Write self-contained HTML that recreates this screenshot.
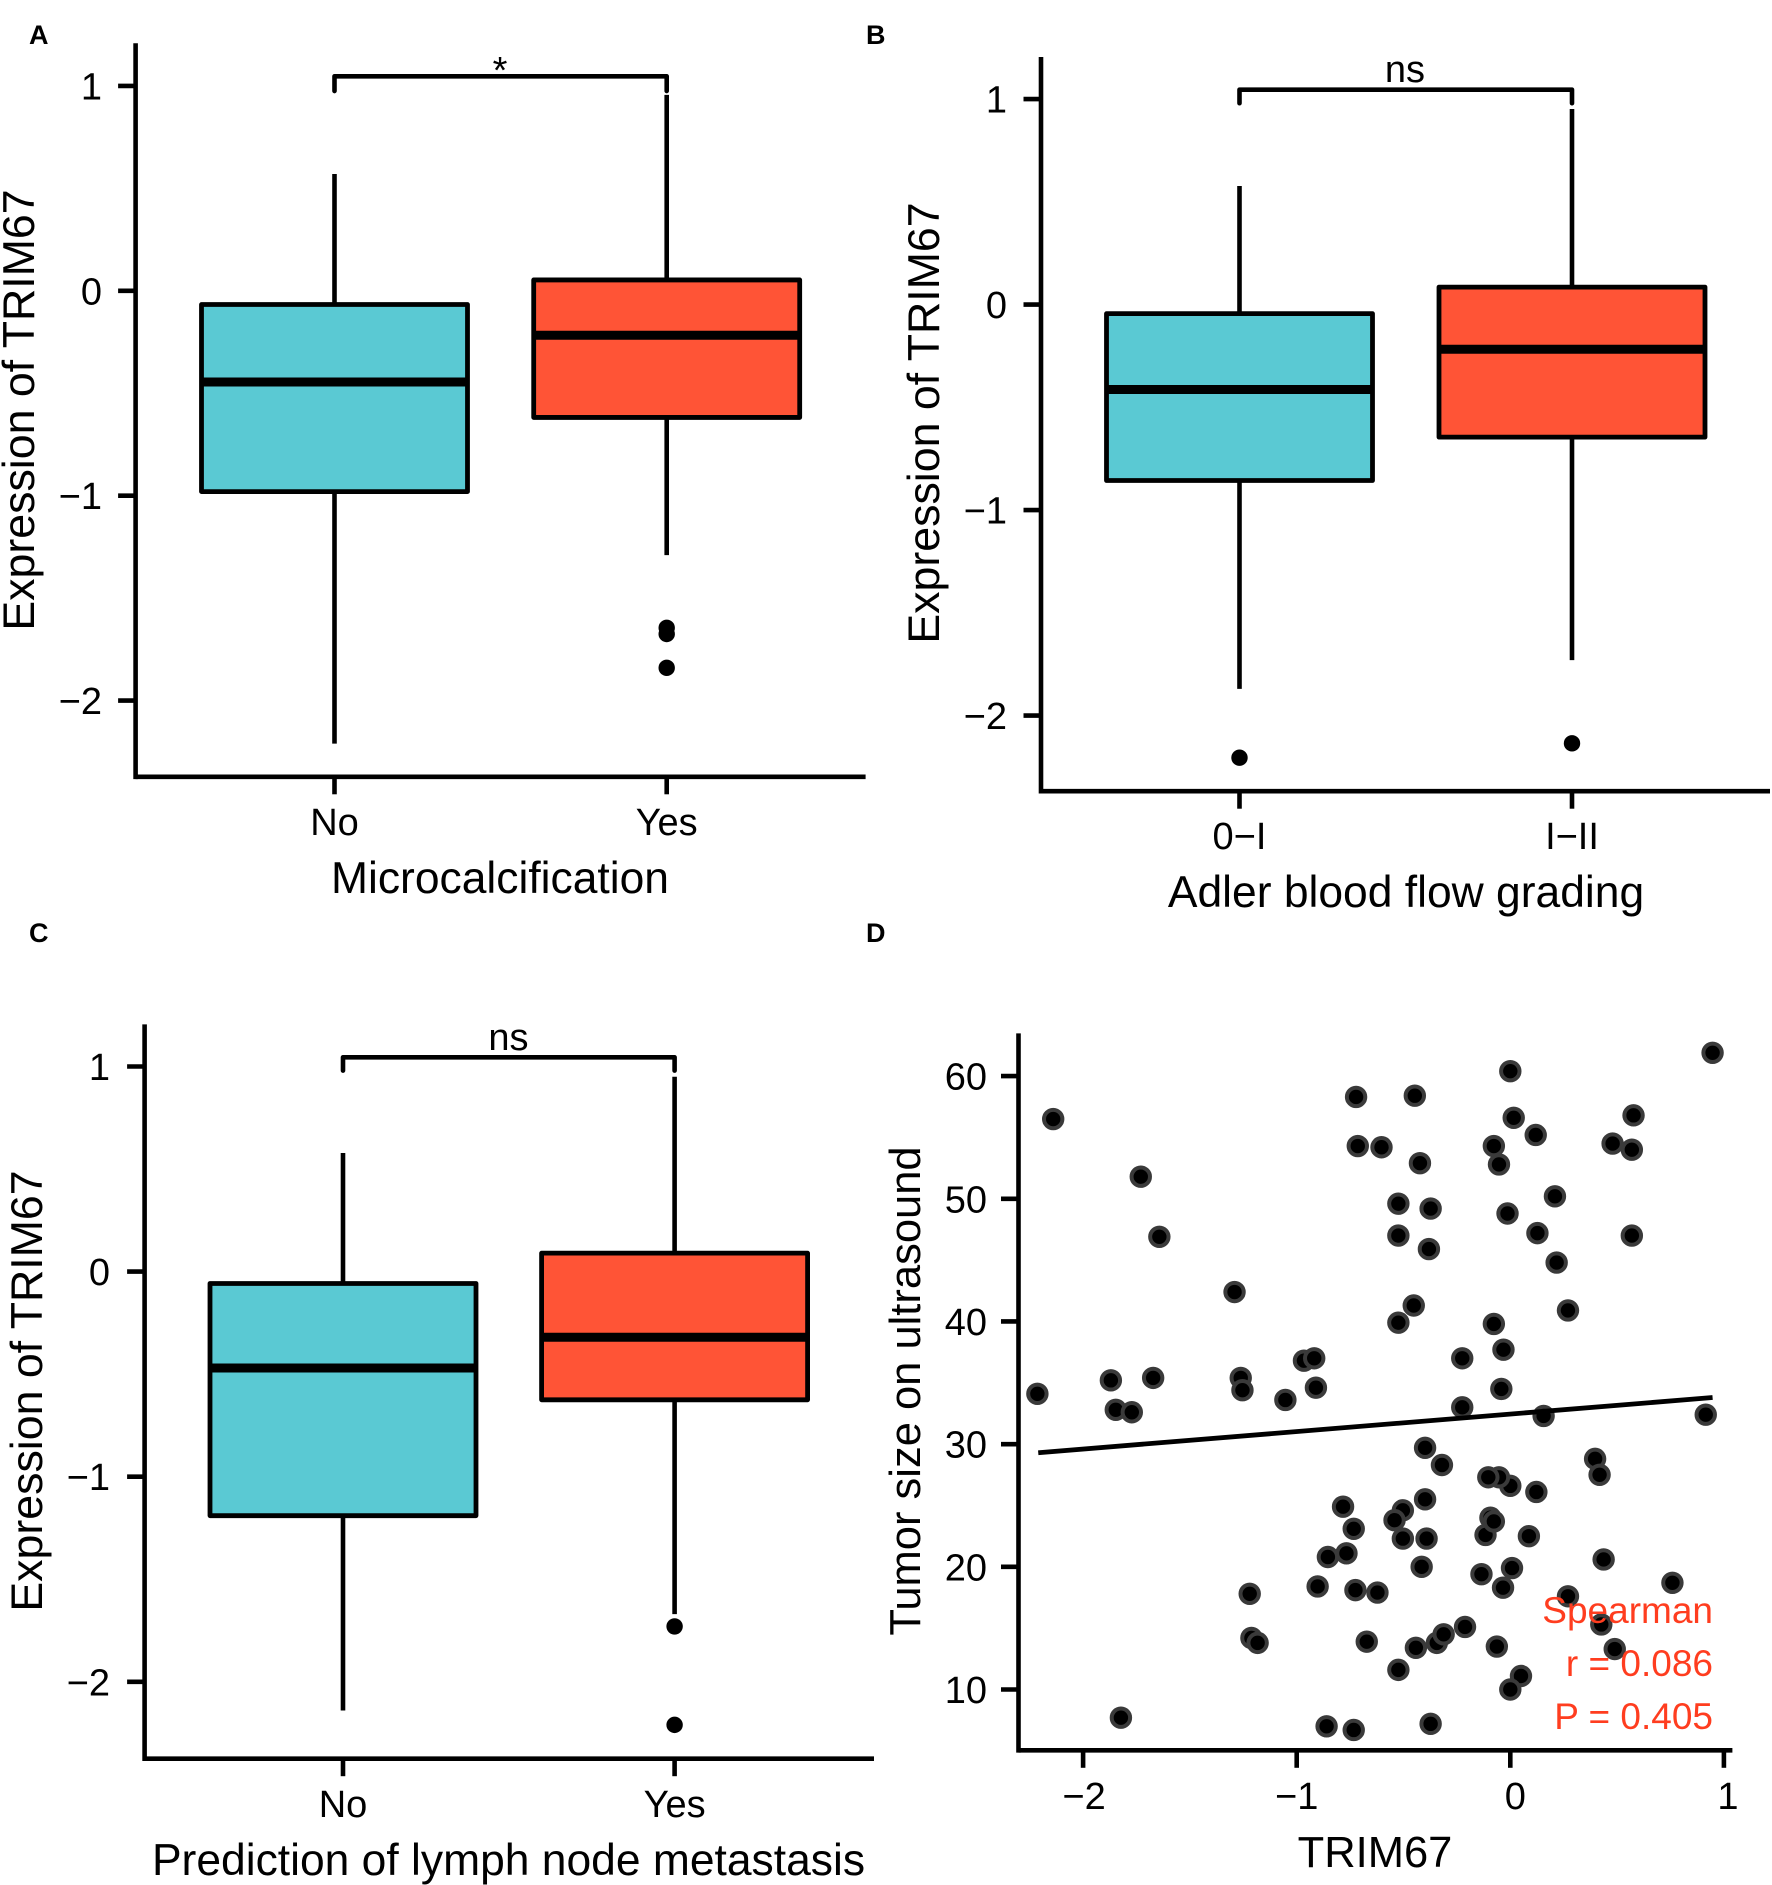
<!DOCTYPE html>
<html lang="en">
<head>
<meta charset="utf-8">
<title>TRIM67 expression panels</title>
<style>
html,body{margin:0;padding:0;background:#fff;}
svg{display:block;}
text{font-family:"Liberation Sans",Arial,sans-serif;fill:#000;}
.tick{font-size:38px;}
.title{font-size:44.4px;}
.ytitle{font-size:44.7px;}
.dtitle{font-size:43.5px;}
.sig{font-size:38px;}
.letter{font-size:27px;font-weight:bold;}
.stat{font-size:37px;fill:#ff3d1f;}
</style>
</head>
<body>
<svg id="figure" xmlns="http://www.w3.org/2000/svg" width="1772" height="1885" viewBox="0 0 1772 1885">
  <rect x="0" y="0" width="1772" height="1885" fill="#fff"/>
  <g id="panel-a"></g>
  <g id="panel-b"></g>
  <g id="panel-c"></g>
  <g id="panel-d"></g>

  <text class="letter" x="29" y="44">A</text>
  <text class="letter" x="866" y="44">B</text>
  <text class="letter" x="29" y="942">C</text>
  <text class="letter" x="866" y="942">D</text>

  <text class="ytitle" text-anchor="middle" transform="translate(34,410) rotate(-90)">Expression of TRIM67</text>
  <text class="title" text-anchor="middle" x="500" y="893">Microcalcification</text>
  <text class="sig" text-anchor="middle" x="500" y="83">*</text>

  <text class="ytitle" text-anchor="middle" transform="translate(939,423) rotate(-90)">Expression of TRIM67</text>
  <text class="title" text-anchor="middle" x="1406" y="907">Adler blood flow grading</text>
  <text class="sig" text-anchor="middle" x="1405" y="82">ns</text>

  <text class="ytitle" text-anchor="middle" transform="translate(42,1391) rotate(-90)">Expression of TRIM67</text>
  <text class="title" text-anchor="middle" x="508.5" y="1875">Prediction of lymph node metastasis</text>
  <text class="sig" text-anchor="middle" x="508.5" y="1050">ns</text>

  <text class="dtitle" text-anchor="middle" transform="translate(920,1391) rotate(-90)">Tumor size on ultrasound</text>
  <text class="dtitle" text-anchor="middle" x="1375" y="1867">TRIM67</text>
  <text class="stat" id="stat-1" text-anchor="end" x="1713" y="1623">Spearman</text>
  <text class="stat" id="stat-2" text-anchor="end" x="1713" y="1676">r = 0.086</text>
  <text class="stat" id="stat-3" text-anchor="end" x="1713" y="1729">P = 0.405</text>
</svg>

<script>
// ---------- Box plot data (panel A: Microcalcification) ----------
const categoriesA = ['No', 'Yes'];
const whiskerHighA = [0.57, 0.956];
const q3A = [-0.067, 0.053];
const medianA = [-0.445, -0.217];
const q1A = [-0.98, -0.618];
const whiskerLowA = [-2.21, -1.29];
const outliersA = [[], [-1.645, -1.675, -1.84]];
const bracketA = [1.047, 0.975];

// ---------- Panel B: Adler blood flow grading ----------
const categoriesB = ['0\u2212I', 'I\u2212II'];
const whiskerHighB = [0.577, 0.952];
const q3B = [-0.044, 0.085];
const medianB = [-0.413, -0.217];
const q1B = [-0.856, -0.645];
const whiskerLowB = [-1.87, -1.73];
const outliersB = [[-2.205], [-2.135]];
const bracketB = [1.046, 0.98];

// ---------- Panel C: Prediction of lymph node metastasis ----------
const categoriesC = ['No', 'Yes'];
const whiskerHighC = [0.578, 0.95];
const q3C = [-0.058, 0.09];
const medianC = [-0.47, -0.32];
const q1C = [-1.19, -0.625];
const whiskerLowC = [-2.14, -1.67];
const outliersC = [[], [-1.73, -2.21]];
const bracketC = [1.045, 0.98];

const boxYTicks = [1, 0, -1, -2];
const boxYTickLabels = ['1', '0', '\u22121', '\u22122'];

// ---------- Panel D: scatter ----------
const scatterTrim67 = [
  -2.214,-2.14,-1.87,-1.847,-1.772,-1.73,-1.672,-1.643,-1.823,-1.291,
  -1.262,-1.254,-1.053,-0.966,-0.918,-0.91,-1.22,-1.212,-1.183,-0.902,
  -0.86,-0.733,-0.854,-0.767,-0.783,-0.733,-0.725,-0.622,-0.672,-0.722,
  -0.714,-0.603,-0.447,-0.423,-0.524,-0.373,-0.524,-0.381,-0.452,-0.524,
  -0.399,-0.32,-0.399,-0.503,-0.542,-0.503,-0.392,-0.415,-0.524,-0.442,
  -0.373,-0.344,-0.312,-0.212,-0.063,-0.135,-0.034,0.008,-0.116,-0.093,
  -0.077,0.087,0.122,0,-0.053,-0.103,-0.077,-0.032,-0.042,-0.225,
  -0.225,0.156,0.209,0.127,0.217,0.27,-0.013,-0.053,-0.077,0.016,
  0.119,0,0.479,0.569,0.577,0.569,0.947,0.915,0.397,0.418,
  0.437,0.759,0.27,0.426,0.489,0.05,0
];
const scatterTumorSize = [
  34.1,56.5,35.2,32.8,32.6,51.8,35.4,46.9,7.7,42.4,
  35.4,34.4,33.6,36.8,37.0,34.6,17.8,14.2,13.8,18.4,
  7.0,6.7,20.8,21.1,24.9,23.1,18.1,17.9,13.9,58.3,
  54.3,54.2,58.4,52.9,49.6,49.2,47.0,45.9,41.3,39.9,
  29.7,28.3,25.5,24.6,23.8,22.3,22.3,20.0,11.6,13.4,
  7.2,13.8,14.5,15.1,13.5,19.4,18.3,19.9,22.6,24.0,
  23.7,22.5,26.1,26.6,27.3,27.3,39.8,37.7,34.5,37.0,
  33.0,32.3,50.2,47.2,44.8,40.9,48.8,52.8,54.3,56.6,
  55.2,60.4,54.5,54.0,56.8,47.0,61.9,32.4,28.8,27.5,
  20.6,18.7,17.6,15.3,13.3,11.1,10.0
];
const fitTrim67 = [-2.21, 0.947];
const fitTumorSize = [29.3, 33.8];
const scatterXTicks = [-2, -1, 0, 1];
const scatterXTickLabels = ['\u22122', '\u22121', '0', '1'];
const scatterYTicks = [60, 50, 40, 30, 20, 10];
const scatterYTickLabels = ['60', '50', '40', '30', '20', '10'];

const SVGNS = 'http://www.w3.org/2000/svg';
const LINE_W = 4.6;
const TEAL = '#5ac9d3';
const RED = '#ff5436';

function make(parent, tag, attrs, text) {
  const el = document.createElementNS(SVGNS, tag);
  for (const k in attrs) el.setAttribute(k, attrs[k]);
  if (text !== undefined) el.textContent = text;
  parent.appendChild(el);
  return el;
}

function linear(d0, r0, d1, r1) {
  return function (v) { return r0 + (v - d0) * (r1 - r0) / (d1 - d0); };
}

function drawAxes(g, a, xTicks, xLabels, xScale, yTicks, yLabels, yScale) {
  let el = make(g, 'line', {x1: a.left, x2: a.left, y1: a.top, y2: a.bottom + LINE_W / 2, stroke: '#000', 'stroke-width': LINE_W});
  
  
  el = make(g, 'line', {x1: a.left, x2: a.right, y1: a.bottom, y2: a.bottom, stroke: '#000', 'stroke-width': LINE_W});
  
  
  yTicks.forEach(function (t, i) {
    const y = yScale(t);
    let m = make(g, 'line', {x1: a.left - 17.5, x2: a.left, y1: y, y2: y, stroke: '#000', 'stroke-width': LINE_W});
    
    
    let l = make(g, 'text', {'class': 'tick', x: a.yLabelX, y: y + 13.5, 'text-anchor': 'end'}, yLabels[i]);
    
    
  });
  xTicks.forEach(function (t, i) {
    const x = xScale(t);
    let m = make(g, 'line', {x1: x, x2: x, y1: a.bottom, y2: a.bottom + 17.5, stroke: '#000', 'stroke-width': LINE_W});
    
    
    const nudge = a.xLabelNudge ? a.xLabelNudge[i] : 0;
    let l = make(g, 'text', {'class': 'tick', x: x + nudge, y: a.xLabelY, 'text-anchor': 'middle'}, xLabels[i]);
    
    
  });
}

function drawBoxPanel(id, a, categories, high, q3, med, q1, low, outliers, bracket) {
  const g = document.getElementById(id);
  const xScale = linear(0, a.x0, 1, a.x1);
  const yScale = linear(0, a.y0, 1, a.y1);
  const halfW = 133;
  const fills = [TEAL, RED];
  const idx = categories.map(function (c, i) { return i; });
  drawAxes(g, a, idx, categories, xScale, boxYTicks, boxYTickLabels, yScale);

  idx.forEach(function (i) {
    const x = xScale(i);
    let w = make(g, 'line', {x1: x, x2: x, y1: yScale(high[i]), y2: yScale(q3[i]), stroke: '#000', 'stroke-width': LINE_W});
    
    
    w = make(g, 'line', {x1: x, x2: x, y1: yScale(q1[i]), y2: yScale(low[i]), stroke: '#000', 'stroke-width': LINE_W});
    
    
    const r = make(g, 'rect', {x: x - halfW, y: yScale(q3[i]), width: 2 * halfW, height: yScale(q1[i]) - yScale(q3[i]), fill: fills[i], stroke: '#000', 'stroke-width': 4.8, 'stroke-linejoin': 'round'});
    
    
    const m = make(g, 'line', {x1: x - halfW, x2: x + halfW, y1: yScale(med[i]), y2: yScale(med[i]), stroke: '#000', 'stroke-width': 9});
    
    
    outliers[i].forEach(function (v) {
      const c = make(g, 'circle', {cx: x, cy: yScale(v), r: 8.2, fill: '#000'});
      
      
    });
  });

  const bTop = yScale(bracket[0]);
  const bTip = yScale(bracket[1]);
  const b = make(g, 'path', {d: 'M' + xScale(0) + ' ' + bTip + ' V' + bTop + ' H' + xScale(1) + ' V' + bTip, fill: 'none', stroke: '#000', 'stroke-width': LINE_W, 'stroke-linecap': 'round', 'stroke-linejoin': 'round'});
  
  
}

drawBoxPanel('panel-a',
  {left: 135.6, right: 865.6, top: 43.3, bottom: 776.8, x0: 334.5, x1: 666.7, y0: 290.8, y1: 85.9, yLabelX: 102, xLabelY: 835},
  categoriesA, whiskerHighA, q3A, medianA, q1A, whiskerLowA, outliersA, bracketA);

drawBoxPanel('panel-b',
  {left: 1041, right: 1770, top: 57, bottom: 791.2, x0: 1239.5, x1: 1572, y0: 304.6, y1: 99.1, yLabelX: 1007, xLabelY: 849},
  categoriesB, whiskerHighB, q3B, medianB, q1B, whiskerLowB, outliersB, bracketB);

drawBoxPanel('panel-c',
  {left: 144.6, right: 874, top: 1024.4, bottom: 1758.7, x0: 343, x1: 674.6, y0: 1271.6, y1: 1066.5, yLabelX: 110, xLabelY: 1817},
  categoriesC, whiskerHighC, q3C, medianC, q1C, whiskerLowC, outliersC, bracketC);

(function drawScatter() {
  const g = document.getElementById('panel-d');
  const a = {left: 1018.5, right: 1732.4, top: 1033.4, bottom: 1750.3, yLabelX: 987, xLabelY: 1809, xLabelNudge: [1, 0, 5, 4]};
  const xScale = linear(0, 1510.3, 1, 1723.9);
  const yScale = linear(10, 1689.5, 60, 1076.1);
  drawAxes(g, a, scatterXTicks, scatterXTickLabels, xScale, scatterYTicks, scatterYTickLabels, yScale);
  scatterTrim67.forEach(function (v, i) {
    const c = make(g, 'circle', {cx: xScale(v), cy: yScale(scatterTumorSize[i]), r: 9.2, fill: '#000', stroke: '#3a3a3a', 'stroke-width': 4});
    
    
  });
  const fit = make(g, 'line', {x1: xScale(fitTrim67[0]), y1: yScale(fitTumorSize[0]), x2: xScale(fitTrim67[1]), y2: yScale(fitTumorSize[1]), stroke: '#000', 'stroke-width': 4.8});
  
  
})();
</script>
</body>
</html>
